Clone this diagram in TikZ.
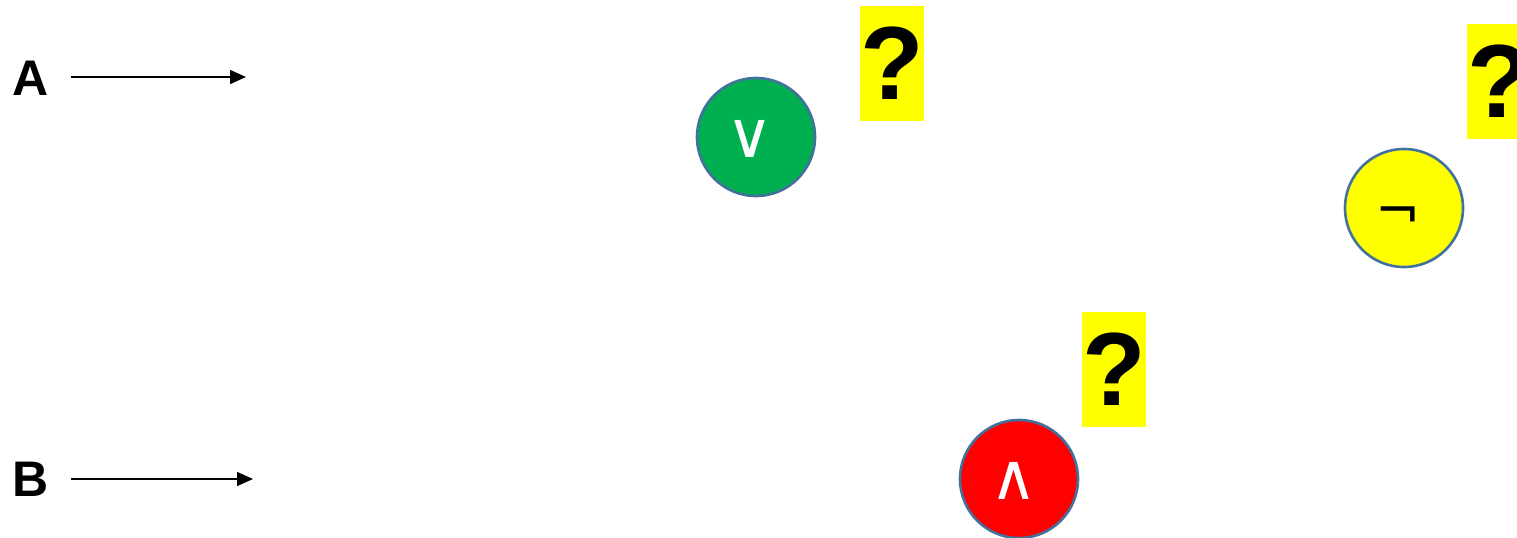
\documentclass[tikz,border=0pt]{standalone}
\usepackage{fontspec}
\setmainfont{Liberation Sans}
\newfontfamily\symfont{DejaVu Sans}
\usetikzlibrary{arrows.meta}
\definecolor{gatebord}{RGB}{65,113,156}
\definecolor{gategreen}{RGB}{0,176,80}
\definecolor{gatered}{RGB}{255,0,0}
\definecolor{qyellow}{RGB}{255,255,0}
\tikzset{
  inlabel/.style={font=\bfseries\fontsize{25pt}{25pt}\selectfont, inner sep=0pt},
  inarrow/.style={line width=0.75pt, -{Triangle[length=8pt,width=7pt]}},
  gate/.style={circle, draw=gatebord, line width=1.3pt, minimum size=59pt, inner sep=0pt},
  gatesym/.style={inner sep=0pt, font=\symfont\fontsize{32pt}{32pt}\selectfont},
  qbox/.style={rectangle, fill=qyellow, minimum width=31pt, minimum height=57.5pt, inner sep=0pt, font=\bfseries\fontsize{52pt}{52pt}\selectfont}
}
\begin{document}
\begin{tikzpicture}[x=0.5pt, y=-0.5pt]
\useasboundingbox (0,0) rectangle (1517,537);
% inputs
\node[inlabel] (A) at (31,78) {A};
\node[inlabel] (B) at (31,479) {B};
\coordinate (As) at (71,77);
\coordinate (Ae) at (246,77);
\coordinate (Bs) at (71,479);
\coordinate (Be) at (253,479);
\draw[inarrow] (As) -- (Ae);
\draw[inarrow] (Bs) -- (Be);
% gates
\node[gate, fill=gategreen] (or) at (756,137) {};
\node[gatesym, text=white] (orsym) at (750,139) {∨};
\node[gate, fill=qyellow] (not) at (1404,208) {};
\node[gatesym, text=black, font=\symfont\fontsize{27pt}{27pt}\selectfont] (notsym) at (1398,218) {¬};
\node[gate, fill=gatered] (and) at (1019,479) {};
\node[gatesym, text=white] (andsym) at (1014,481) {∧};
% question boxes
\node[qbox] (q1) at (892,63.5) {?};
\node[qbox] (q2) at (1499,81.5) {?};
\node[qbox] (q3) at (1114,369.5) {?};
\end{tikzpicture}
\end{document}
